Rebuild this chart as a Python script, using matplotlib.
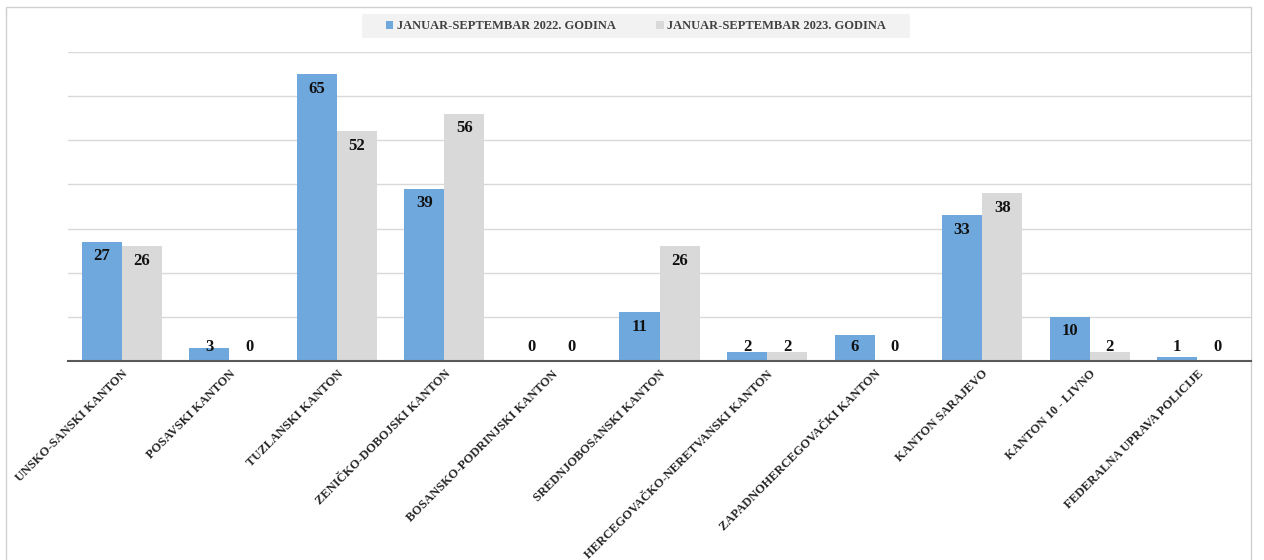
import numpy as np
import matplotlib.pyplot as plt
from matplotlib.patches import Rectangle

kantoni = ['UNSKO-SANSKI KANTON', 'POSAVSKI KANTON', 'TUZLANSKI KANTON',
           'ZENIČKO-DOBOJSKI KANTON', 'BOSANSKO-PODRINJSKI KANTON',
           'SREDNJOBOSANSKI KANTON', 'HERCEGOVAČKO-NERETVANSKI KANTON',
           'ZAPADNOHERCEGOVAČKI KANTON', 'KANTON SARAJEVO', 'KANTON 10 - LIVNO',
           'FEDERALNA UPRAVA POLICIJE']
god_2022 = [27, 3, 65, 39, 0, 11, 2, 6, 33, 10, 1]
god_2023 = [26, 0, 52, 56, 0, 26, 2, 0, 38, 2, 0]
naziv_2022 = 'JANUAR-SEPTEMBAR 2022. GODINA'
naziv_2023 = 'JANUAR-SEPTEMBAR 2023. GODINA'

plt.rcParams['font.family'] = ['Liberation Serif', 'DejaVu Serif']

plava = '#6FA8DC'
siva = '#D9D9D9'

fig = plt.figure(figsize=(12.64, 5.6), dpi=100)
ax = fig.add_axes([68/1264, 1 - 361/560, (1251 - 68)/1264, (361 - 52)/560])

x = np.arange(len(kantoni))
w = 0.372
ax.bar(x - w/2, god_2022, w, color=plava, label=naziv_2022, zorder=2)
ax.bar(x + w/2, god_2023, w, color=siva, label=naziv_2023, zorder=2)

# oznake vrijednosti unutar vrha stupca
for xs, vals in [(x - w/2, god_2022), (x + w/2, god_2023)]:
    for xi, v in zip(xs, vals):
        ax.text(xi, max(v - 3.3, 3.2), str(v), ha='center', va='center',
                fontsize=12, fontweight='bold', color='#111111', zorder=3)

ax.set_xlim(-0.5, len(kantoni) - 0.5)
ax.set_ylim(0, 70)
ax.set_yticks(np.arange(0, 71, 10))
ax.yaxis.grid(True, color='#d9d9d9', lw=1, zorder=0)
ax.tick_params(axis='y', left=False, labelleft=False)
ax.tick_params(axis='x', length=0, pad=5)
for s in ['top', 'right', 'left']:
    ax.spines[s].set_visible(False)
ax.spines['bottom'].set_color('#595959')
ax.spines['bottom'].set_linewidth(1.5)
ax.spines['bottom'].set_zorder(4)

ax.set_xticks(x)
ax.set_xticklabels(kantoni, rotation=45, ha='right', rotation_mode='anchor',
                   fontsize=9, fontweight='bold', color='#262626')

# pozadina legende
fig.patches.append(Rectangle((362/1264, 1 - 38/560), (910 - 362)/1264, 24/560,
                             transform=fig.transFigure, facecolor='#f2f2f2',
                             edgecolor='none', zorder=-1))
leg = ax.legend(loc='center', bbox_to_anchor=(636/1264, 1 - 26/560),
                bbox_transform=fig.transFigure, ncol=2, frameon=False,
                handlelength=0.6, handleheight=0.6,
                handletextpad=0.3, columnspacing=3.2,
                prop={'weight': 'bold', 'size': 9})
for t in leg.get_texts():
    t.set_color('#404040')

fig.patches.append(Rectangle((6/1264, -0.01), (1251 - 6)/1264, 1 - 7/560 + 0.01,
                             transform=fig.transFigure, fill=False,
                             edgecolor='#d0d0d0', lw=1, zorder=-1))

fig.savefig('out.png', dpi=100)
